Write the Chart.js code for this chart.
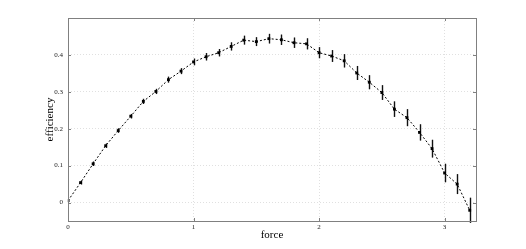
<!DOCTYPE html>
<html>
<head>
<meta charset="utf-8">
<script src="https://cdn.jsdelivr.net/npm/chart.js@4/dist/chart.umd.min.js"></script>
<style>
html,body{margin:0;padding:0;background:#fff;}
canvas{display:block;}
</style>
</head>
<body>
<canvas id="c" width="526" height="249"></canvas>
<script>
const forceValues = [0,0.1,0.2,0.3,0.4,0.5,0.6,0.7,0.8,0.9,1.0,1.1,1.2,1.3,1.4,1.5,1.6,1.7,1.8,1.9,2.0,2.1,2.2,2.3,2.4,2.5,2.6,2.7,2.8,2.9,3.0,3.1,3.2];
const efficiencyValues = [0.005,0.054,0.105,0.154,0.195,0.234,0.274,0.301,0.333,0.356,0.381,0.395,0.406,0.423,0.440,0.436,0.444,0.441,0.433,0.430,0.406,0.397,0.384,0.351,0.326,0.298,0.253,0.230,0.190,0.146,0.080,0.050,-0.021];
const errorValues = [0.004,0.005,0.006,0.006,0.006,0.006,0.007,0.007,0.008,0.008,0.009,0.010,0.010,0.011,0.012,0.012,0.013,0.014,0.014,0.015,0.015,0.016,0.018,0.019,0.019,0.020,0.021,0.023,0.022,0.024,0.025,0.027,0.034];
const xTickValues = [0,1,2,3];
const yTickValues = [0,0.1,0.2,0.3,0.4];
const xTitle = 'force';
const yTitle = 'efficiency';

const serif = "'Liberation Serif','DejaVu Serif',serif";

const decor = {
  id: 'decor',
  beforeDatasetsDraw(chart) {
    const ctx = chart.ctx, xs = chart.scales.x, ys = chart.scales.y;
    ctx.save();
    for (let i = 0; i < forceValues.length; i++) {
      const px = Math.round(xs.getPixelForValue(forceValues[i])) + 0.5;
      const y1 = ys.getPixelForValue(efficiencyValues[i] - errorValues[i]);
      const y2 = ys.getPixelForValue(efficiencyValues[i] + errorValues[i]);
      ctx.strokeStyle = '#a0a0a0';
      ctx.lineWidth = 2;
      ctx.beginPath(); ctx.moveTo(px, y1); ctx.lineTo(px, y2); ctx.stroke();
      ctx.strokeStyle = '#111';
      ctx.lineWidth = 1;
      ctx.beginPath(); ctx.moveTo(px, y1); ctx.lineTo(px, y2); ctx.stroke();
    }
    ctx.restore();
  },
  afterDraw(chart) {
    const ctx = chart.ctx, a = chart.chartArea, xs = chart.scales.x, ys = chart.scales.y;
    ctx.save();
    ctx.strokeStyle = '#808080';
    ctx.lineWidth = 1;
    ctx.strokeRect(Math.round(a.left) + 0.5, Math.round(a.top) + 0.5, Math.round(a.right - a.left), Math.round(a.bottom - a.top));
    const L = 3;
    ctx.beginPath();
    xTickValues.forEach(v => {
      const px = Math.round(xs.getPixelForValue(v)) + 0.5;
      ctx.moveTo(px, a.bottom); ctx.lineTo(px, a.bottom - L);
      ctx.moveTo(px, a.top); ctx.lineTo(px, a.top + L);
    });
    yTickValues.forEach(v => {
      const py = Math.round(ys.getPixelForValue(v)) + 0.5;
      ctx.moveTo(a.left, py); ctx.lineTo(a.left + L, py);
      ctx.moveTo(a.right, py); ctx.lineTo(a.right - L, py);
    });
    ctx.stroke();
    ctx.restore();
  }
};

new Chart(document.getElementById('c'), {
  type: 'line',
  data: {
    datasets: [{
      data: forceValues.map((x, i) => ({x: x, y: efficiencyValues[i]})),
      borderColor: '#000',
      borderWidth: 1,
      borderDash: [2, 2],
      backgroundColor: '#000',
      pointBackgroundColor: '#000',
      pointBorderColor: '#000',
      pointStyle: 'rect',
      pointRadius: 2,
      pointBorderWidth: 0,
      tension: 0,
      fill: false
    }]
  },
  options: {
    responsive: false,
    animation: false,
    devicePixelRatio: 1,
    layout: {padding: {left: 44, right: 50, top: 18, bottom: 7}},
    plugins: {legend: {display: false}, tooltip: {enabled: false}},
    scales: {
      x: {
        type: 'linear', min: 0, max: 3.25,
        afterBuildTicks: s => { s.ticks = xTickValues.map(v => ({value: v})); },
        afterFit: s => { s.height = 21; },
        ticks: {padding: 2, color: '#222', font: {family: serif, size: 7}, callback: v => String(v)},
        grid: {drawTicks: false, color: '#e0e0e0', lineWidth: 1},
        border: {display: false, dash: [1, 2]},
        title: {display: true, text: xTitle, color: '#000', padding: 0, font: {family: serif, size: 11}}
      },
      y: {
        type: 'linear', min: -0.05, max: 0.5,
        afterBuildTicks: s => { s.ticks = yTickValues.map(v => ({value: v})); },
        afterFit: s => { s.width = 24; },
        ticks: {padding: 5, color: '#222', font: {family: serif, size: 7}, callback: v => String(Math.round(v * 10) / 10)},
        grid: {drawTicks: false, color: '#e0e0e0', lineWidth: 1},
        border: {display: false, dash: [1, 2]},
        title: {display: true, text: yTitle, color: '#000', padding: 0, font: {family: serif, size: 11}}
      }
    }
  },
  plugins: [decor]
});
</script>
</body>
</html>
